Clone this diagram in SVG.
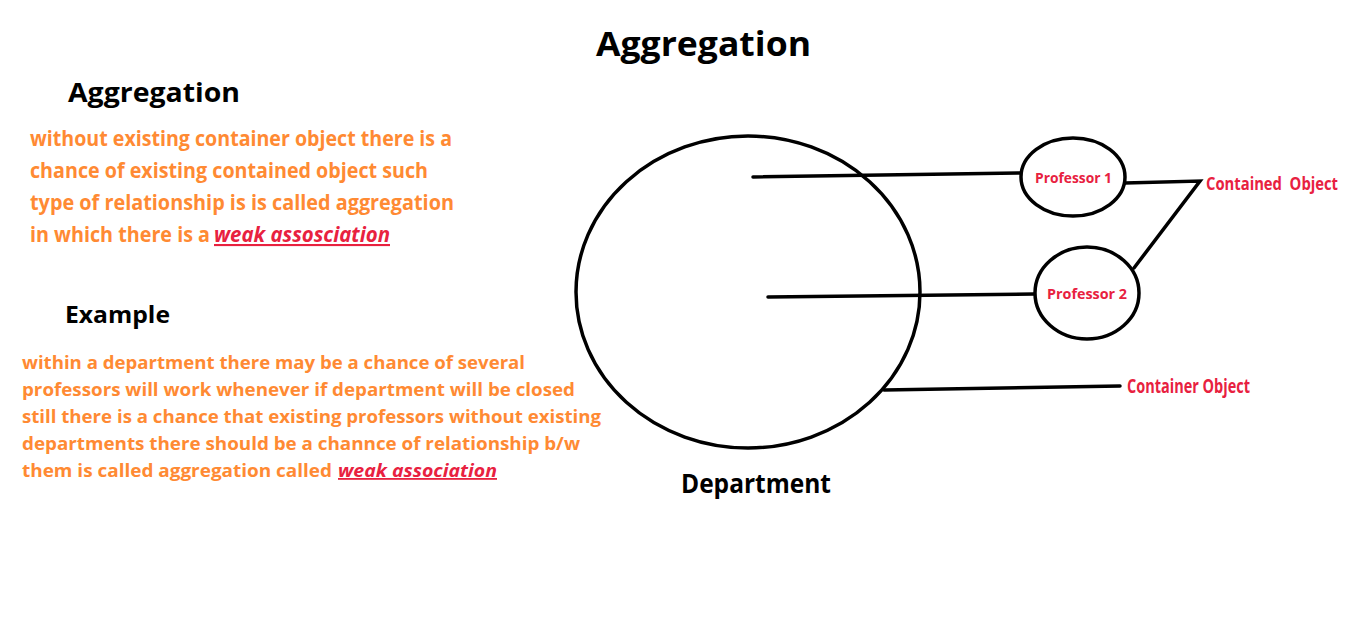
<svg xmlns="http://www.w3.org/2000/svg" width="1350" height="629" viewBox="0 0 1350 629">
<style>
.h{font-family:"Open Sans","Noto Sans","Liberation Sans",sans-serif;font-weight:bold;fill:#000}
.o{font-family:"Open Sans","Noto Sans","Liberation Sans",sans-serif;font-weight:bold;fill:#ff8a33}
.r{font-family:"Open Sans","Noto Sans","Liberation Sans",sans-serif;font-weight:bold;fill:#e8213f}
.em{font-style:italic;text-decoration:underline;fill:#e8213f}
.s{fill:none;stroke:#000;stroke-width:3.5}
.c{stroke:#000;stroke-width:3.5;fill:none;stroke-linecap:round}
</style>
<rect width="1350" height="629" fill="#fff"/>
<text class="h" x="596" y="56" font-size="34" textLength="215" lengthAdjust="spacingAndGlyphs">Aggregation</text>
<g id="definition">
<text class="h" x="68" y="102" font-size="27" textLength="172" lengthAdjust="spacingAndGlyphs">Aggregation</text>
<text class="o" font-size="21">
<tspan x="30" y="146" textLength="422" lengthAdjust="spacingAndGlyphs">without existing container object there is a</tspan>
<tspan x="30" y="178" textLength="398" lengthAdjust="spacingAndGlyphs">chance of existing contained object such</tspan>
<tspan x="30" y="210" textLength="424" lengthAdjust="spacingAndGlyphs">type of relationship is is called aggregation</tspan>
<tspan x="30" y="242" textLength="180" lengthAdjust="spacingAndGlyphs">in which there is a</tspan><tspan class="em" x="214" y="242" textLength="176" lengthAdjust="spacingAndGlyphs">weak assosciation</tspan>
</text>
</g>
<g id="example">
<text class="h" x="65" y="323" font-size="24" textLength="105" lengthAdjust="spacingAndGlyphs">Example</text>
<text class="o" font-size="18">
<tspan x="22" y="369" textLength="503" lengthAdjust="spacingAndGlyphs">within a department there may be a chance of several</tspan>
<tspan x="22" y="396" textLength="553" lengthAdjust="spacingAndGlyphs">professors will work whenever if department will be closed</tspan>
<tspan x="22" y="423" textLength="579" lengthAdjust="spacingAndGlyphs">still there is a chance that existing professors without existing</tspan>
<tspan x="22" y="450" textLength="558" lengthAdjust="spacingAndGlyphs">departments there should be a channce of relationship b/w</tspan>
<tspan x="22" y="477" textLength="310" lengthAdjust="spacingAndGlyphs">them is called aggregation called</tspan><tspan class="em" x="338" y="477" textLength="159" lengthAdjust="spacingAndGlyphs">weak association</tspan>
</text>
</g>
<g id="connectors">
<line class="c" x1="753" y1="177" x2="1020" y2="173"/>
<line class="c" x1="768" y1="297" x2="1034" y2="294"/>
<polyline class="c" points="1125,183 1200,181 1134,268"/>
<line class="c" x1="884" y1="390" x2="1120" y2="386"/>
</g>
<g id="department">
<ellipse class="s" cx="748" cy="292" rx="172" ry="156"/>
<text class="h" x="681" y="493" font-size="26" textLength="150" lengthAdjust="spacingAndGlyphs" fill="#111">Department</text>
</g>
<g id="professor1">
<ellipse class="s" cx="1073" cy="177" rx="52" ry="39"/>
<text class="r" x="1035" y="183" font-size="15" textLength="77" lengthAdjust="spacingAndGlyphs">Professor 1</text>
</g>
<g id="professor2">
<ellipse class="s" cx="1087" cy="293" rx="52" ry="46"/>
<text class="r" x="1047" y="299" font-size="15" textLength="80" lengthAdjust="spacingAndGlyphs">Professor 2</text>
</g>
<g id="contained-label">
<text class="r" x="1206" y="190" font-size="17" textLength="132" lengthAdjust="spacingAndGlyphs" xml:space="preserve">Contained  Object</text>
</g>
<g id="container-label">
<text class="r" x="1127" y="393" font-size="19" textLength="123" lengthAdjust="spacingAndGlyphs">Container Object</text>
</g>
</svg>
